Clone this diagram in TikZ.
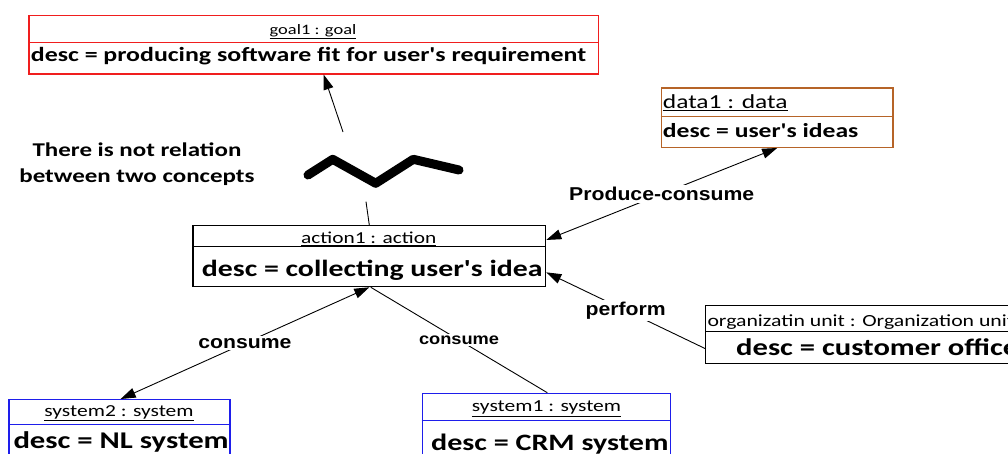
\documentclass[tikz,border=0pt]{standalone}
\usepackage{fontspec}
\setmainfont{Carlito}
\newfontfamily\calf[FakeStretch=1.28]{Carlito}
\newfontfamily\labf[FakeStretch=1.14]{Liberation Sans}
\usetikzlibrary{arrows.meta}
\definecolor{goalred}{RGB}{240,30,30}
\definecolor{databrown}{RGB}{182,100,40}
\definecolor{sysblue}{RGB}{30,30,235}
\tikzset{
  box/.style={draw, line width=1.3pt, inner sep=0pt, anchor=north west},
  txt/.style={inner sep=0pt},
  conn/.style={line width=0.9pt},
  tipend/.style={conn, -{Triangle[length=15pt,width=10pt]}},
  tipboth/.style={conn, {Triangle[length=15pt,width=10pt]}-{Triangle[length=15pt,width=10pt]}},
  lbl/.style={fill=white, inner xsep=1pt, inner ysep=2pt, font=\labf\bfseries\fontsize{18.6}{22}\selectfont},
}
\begin{document}
\begin{tikzpicture}[x=1pt,y=-1pt]
\useasboundingbox (0,0) rectangle (1008,453);
\clip (0,0) rectangle (1008,453);
% boxes
\node[box, draw=goalred, minimum width=569.4pt, minimum height=58.3pt] (goal) at (28.3,15) {};
\draw[goalred, line width=1.3pt] ([yshift=-27.3pt]goal.north west) -- ([yshift=-27.3pt]goal.north east);
\node[txt, anchor=base, font=\calf\fontsize{14.4}{17}\selectfont] (goalH) at (313,34.3) {\underline{goal1 : goal}};
\node[txt, anchor=base west, font=\calf\bfseries\fontsize{20.2}{24}\selectfont] (goalD) at (30.7,61.7) {desc = producing software fit for user's requirement};

\node[box, draw=databrown, minimum width=231.6pt, minimum height=59.4pt] (data) at (660.7,87.3) {};
\draw[databrown, line width=1.3pt] ([yshift=-29.4pt]data.north west) -- ([yshift=-29.4pt]data.north east);
\node[txt, anchor=base west, font=\calf\fontsize{19.9}{23}\selectfont] (dataH) at (662.7,108.3) {\underline{data1 : data}};
\node[txt, anchor=base west, font=\calf\bfseries\fontsize{20}{23}\selectfont] (dataD) at (662.7,137.3) {desc = user's ideas};

\node[box, minimum width=352.7pt, minimum height=61pt] (action) at (192.3,225) {};
\draw[line width=1.3pt] ([yshift=-21.7pt]action.north west) -- ([yshift=-21.7pt]action.north east);
\node[txt, anchor=base, font=\calf\fontsize{16.7}{19}\selectfont] (actionH) at (368.7,243.3) {\underline{action1 : action}};
\node[txt, anchor=base west, font=\calf\bfseries\fontsize{23.3}{27}\selectfont] (actionD) at (201.7,276) {desc = collecting user's idea};

\node[box, minimum width=330pt, minimum height=57.7pt] (org) at (705,305) {};
\draw[line width=1.3pt] ([yshift=-26.7pt]org.north west) -- ([yshift=-26.7pt]org.north east);
\node[txt, anchor=base west, font=\calf\fontsize{17}{19}\selectfont] (orgH) at (707.3,326.7) {\underline{organizatin unit : Organization unit}};
\node[txt, anchor=base west, font=\calf\bfseries\fontsize{23.9}{27}\selectfont] (orgD) at (736,355) {desc = customer office};

\node[box, draw=sysblue, minimum width=221pt, minimum height=80pt] (sys2) at (8.3,399) {};
\draw[sysblue, line width=1.3pt] ([yshift=-25.3pt]sys2.north west) -- ([yshift=-25.3pt]sys2.north east);
\node[txt, anchor=base, font=\calf\fontsize{16.8}{19}\selectfont] (sys2H) at (119,416) {\underline{system2 : system}};
\node[txt, anchor=base west, font=\calf\bfseries\fontsize{24}{27}\selectfont] (sys2D) at (13.3,448.3) {desc = NL system};

\node[box, draw=sysblue, minimum width=248.3pt, minimum height=80pt] (sys1) at (421.7,392.7) {};
\draw[sysblue, line width=1.3pt] ([yshift=-28pt]sys1.north west) -- ([yshift=-28pt]sys1.north east);
\node[txt, anchor=base, font=\calf\fontsize{16.8}{19}\selectfont] (sys1H) at (546.5,411.7) {\underline{system1 : system}};
\node[txt, anchor=base west, font=\calf\bfseries\fontsize{23.5}{27}\selectfont] (sys1D) at (431,450) {desc = CRM system};

% note text
\node[txt, align=center, font=\calf\bfseries\fontsize{19.5}{26.6}\selectfont] (note) at (137,164) {There is not relation\\between two concepts};

% broken relation
\coordinate (z1) at (308,175);
\coordinate (z2) at (332.7,159.3);
\coordinate (z3) at (375.7,183.3);
\coordinate (z4) at (413.3,159.3);
\coordinate (z5) at (459,170);
\draw[line width=9pt, line cap=round, line join=round] (z1) -- (z2) -- (z3) -- (z4) -- (z5);
\coordinate (gA) at (343,132);
\draw[tipend] (gA) -- ([xshift=10pt]goal.south);
\coordinate (aA) at (366,201.7);
\draw[conn] (aA) -- (action.north);

% relations
\draw[tipboth] ([yshift=16.2pt]action.east) -- node[lbl] (pcL) {Produce-consume} (data.south);
\draw[tipend] ([yshift=-14pt]org.west) -- node[lbl] (pfL) {perform} ([yshift=-16.2pt]action.east);
\draw[tipboth] (action.south) -- node[lbl] (c2L) {consume} ([xshift=1.2pt]sys2.north);
\draw[conn] ([xshift=1.5pt]action.south) -- node[lbl, font=\labf\bfseries\fontsize{16}{19}\selectfont] (c1L) {consume} ([xshift=0.8pt]sys1.north);
\end{tikzpicture}
\end{document}
